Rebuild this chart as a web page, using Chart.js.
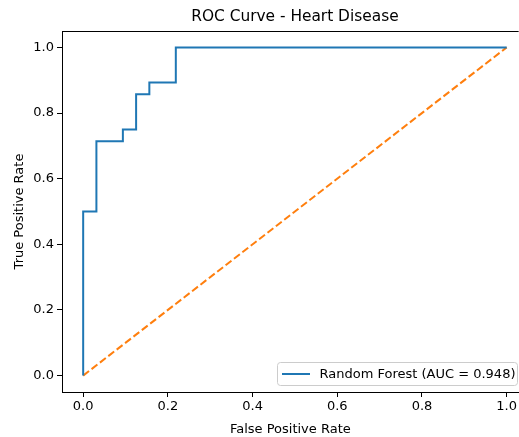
<!DOCTYPE html>
<html>
<head>
<meta charset="utf-8">
<script src="https://cdn.jsdelivr.net/npm/chart.js@4/dist/chart.umd.min.js"></script>
<style>
  html, body { margin: 0; padding: 0; background: #fff; overflow: hidden; }
  canvas { display: block; }
</style>
</head>
<body>
<canvas id="c" width="519" height="437"></canvas>
<script>
// Data
const titleText = "ROC Curve - Heart Disease";
const xLabel = "False Positive Rate";
const yLabel = "True Positive Rate";
const rocLabel = "Random Forest (AUC = 0.948)";
const fpr = [0, 0, 0.03125, 0.03125, 0.09375, 0.09375, 0.125, 0.125, 0.15625, 0.15625, 0.21875, 0.21875, 1.0];
const tpr = [0, 0.5, 0.5, 0.7143, 0.7143, 0.75, 0.75, 0.8571, 0.8571, 0.8929, 0.8929, 1.0, 1.0];
const diagX = [0, 1];
const diagY = [0, 1];
const tickValues = [0, 0.2, 0.4, 0.6, 0.8, 1.0];

const FONT = "'DejaVu Sans', sans-serif";

const extras = {
  id: 'extras',
  afterDraw(chart) {
    const ctx = chart.ctx;
    const a = chart.chartArea;
    ctx.save();
    // top spine
    ctx.strokeStyle = '#000';
    ctx.lineWidth = 1;
    ctx.beginPath();
    ctx.moveTo(a.left, a.top + 0.5);
    ctx.lineTo(a.right, a.top + 0.5);
    ctx.stroke();
    // title centred over the (full, partly cropped) axes
    ctx.fillStyle = '#000';
    ctx.font = '15.4px ' + FONT;
    ctx.textAlign = 'center';
    ctx.textBaseline = 'middle';
    const xs = chart.scales.x;
    const axesCenter = (xs.getPixelForValue(-0.05) + xs.getPixelForValue(1.05)) / 2;
    ctx.fillText(titleText, axesCenter, 17);
    // legend box
    const lx = 277.5, ly = 362.5, lw = 240, lh = 23, r = 3;
    ctx.fillStyle = 'rgba(255,255,255,0.8)';
    ctx.strokeStyle = '#cccccc';
    ctx.lineWidth = 1;
    ctx.beginPath();
    ctx.moveTo(lx + r, ly);
    ctx.lineTo(lx + lw - r, ly);
    ctx.arcTo(lx + lw, ly, lx + lw, ly + r, r);
    ctx.lineTo(lx + lw, ly + lh - r);
    ctx.arcTo(lx + lw, ly + lh, lx + lw - r, ly + lh, r);
    ctx.lineTo(lx + r, ly + lh);
    ctx.arcTo(lx, ly + lh, lx, ly + lh - r, r);
    ctx.lineTo(lx, ly + r);
    ctx.arcTo(lx, ly, lx + r, ly, r);
    ctx.closePath();
    ctx.fill();
    ctx.stroke();
    const ds = chart.data.datasets[0];
    ctx.strokeStyle = ds.borderColor;
    ctx.lineWidth = 2;
    ctx.beginPath();
    ctx.moveTo(282, 374);
    ctx.lineTo(310, 374);
    ctx.stroke();
    ctx.fillStyle = '#000';
    ctx.font = '13px ' + FONT;
    ctx.textAlign = 'left';
    ctx.textBaseline = 'middle';
    ctx.fillText(ds.label, 319.5, 374.5);
    ctx.restore();
  }
};

new Chart(document.getElementById('c'), {
  type: 'line',
  data: {
    datasets: [
      {
        label: rocLabel,
        data: fpr.map((v, i) => ({ x: v, y: tpr[i] })),
        borderColor: '#1f77b4',
        borderWidth: 2,
        pointRadius: 0,
        tension: 0,
        fill: false
      },
      {
        label: 'Random',
        data: diagX.map((v, i) => ({ x: v, y: diagY[i] })),
        borderColor: '#ff7f0e',
        borderWidth: 2,
        borderDash: [7.4, 3.2],
        pointRadius: 0,
        tension: 0,
        fill: false
      }
    ]
  },
  options: {
    responsive: false,
    animation: false,
    layout: { padding: { top: 31, right: 0, left: 0, bottom: 0 } },
    plugins: {
      legend: { display: false },
      title: { display: false },
      tooltip: { enabled: false }
    },
    scales: {
      x: {
        type: 'linear',
        min: -0.05,
        max: (519 - 83) / 424,
        afterBuildTicks: s => { s.ticks = tickValues.map(v => ({ value: v })); },
        afterFit: s => { s.height = 45; },
        grid: { display: true, drawOnChartArea: false, drawTicks: true, tickLength: 5, color: '#000', lineWidth: 1 },
        border: { display: true, color: '#000', width: 1 },
        ticks: {
          color: '#000',
          font: { family: FONT, size: 13 },
          padding: 2,
          maxRotation: 0,
          callback: v => v.toFixed(1)
        },
        title: {
          display: true,
          text: xLabel,
          color: '#000',
          font: { family: FONT, size: 13 },
          padding: { top: 0, bottom: 0 }
        }
      },
      y: {
        type: 'linear',
        min: -0.05,
        max: 1.05,
        afterBuildTicks: s => { s.ticks = tickValues.map(v => ({ value: v })); },
        afterFit: s => { s.width = 62; },
        grid: { display: true, drawOnChartArea: false, drawTicks: true, tickLength: 5, color: '#000', lineWidth: 1 },
        border: { display: true, color: '#000', width: 1 },
        ticks: {
          color: '#000',
          font: { family: FONT, size: 13 },
          padding: 3,
          callback: v => v.toFixed(1)
        },
        title: {
          display: true,
          text: yLabel,
          color: '#000',
          font: { family: FONT, size: 13 },
          padding: { top: 12, bottom: 4 }
        }
      }
    }
  },
  plugins: [extras]
});
</script>
</body>
</html>
